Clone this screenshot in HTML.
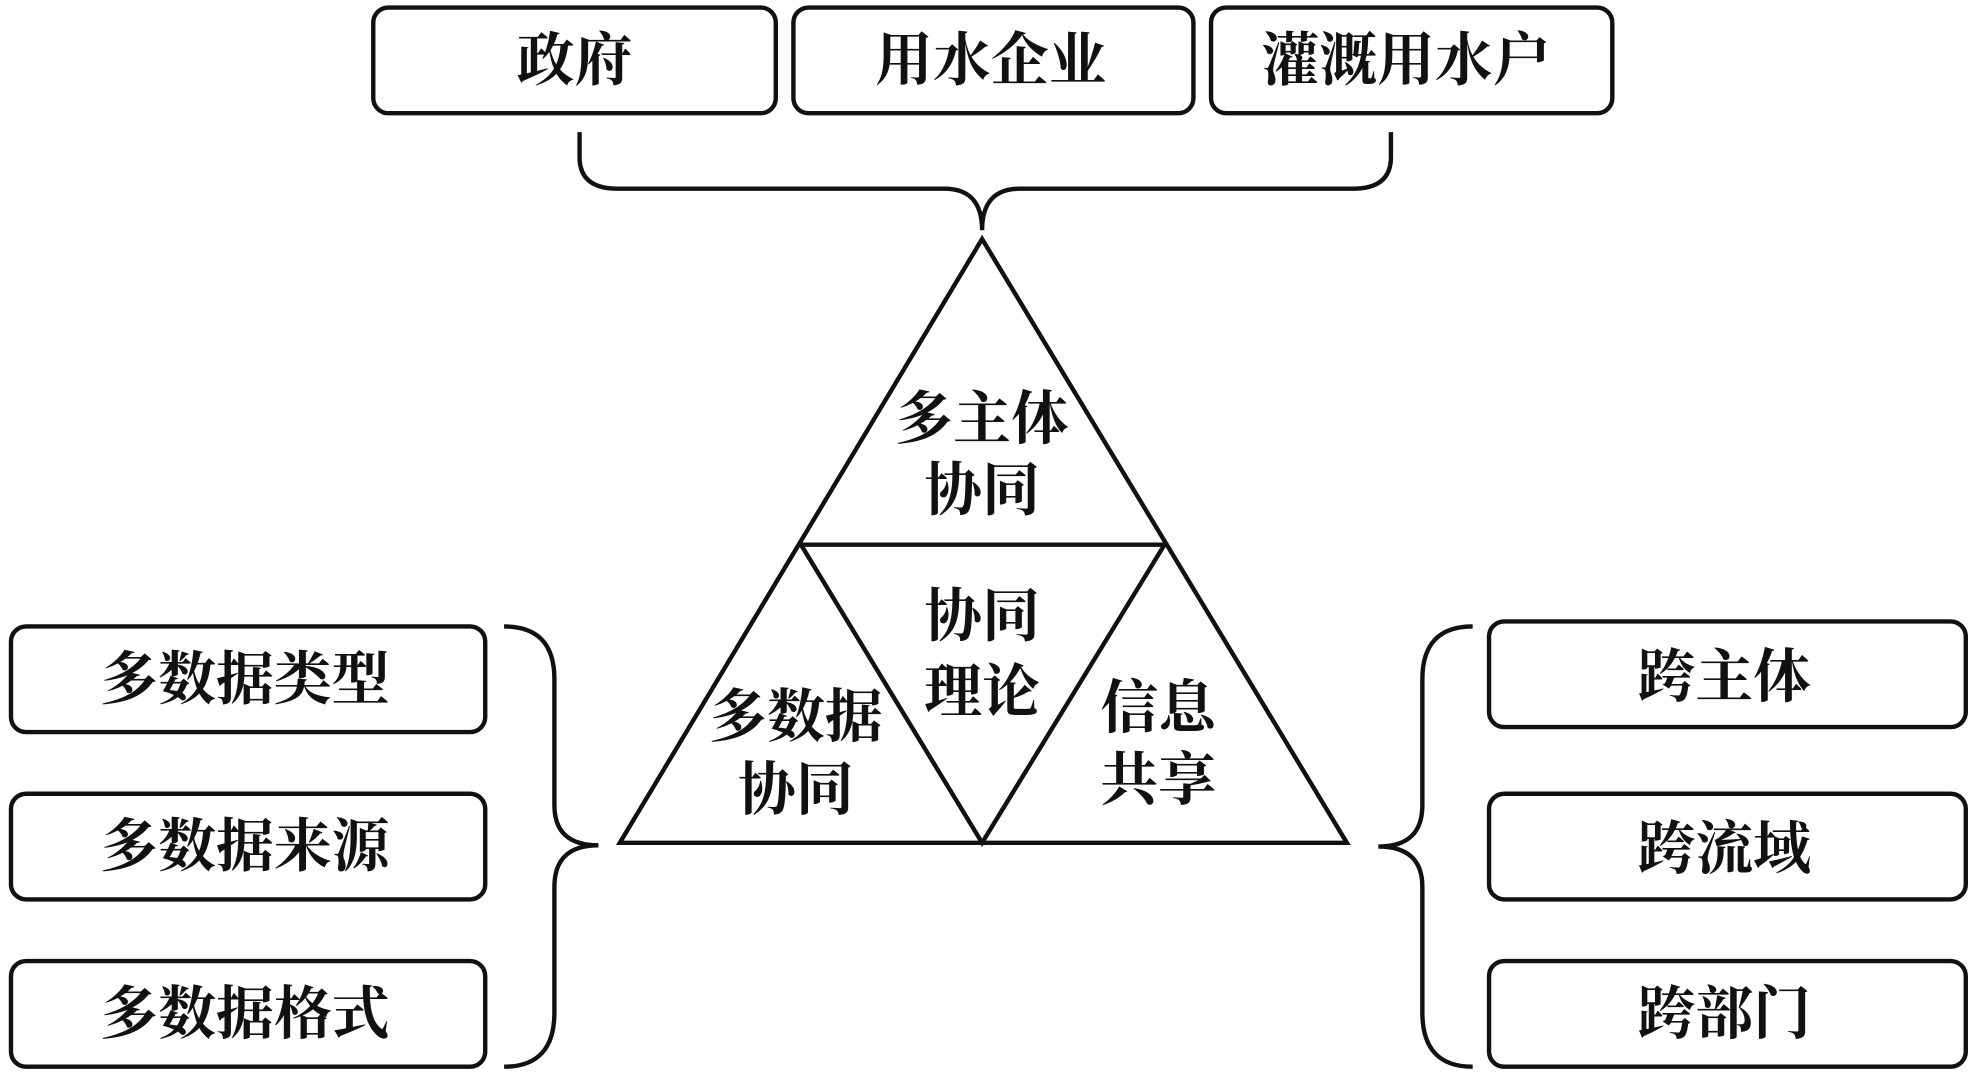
<!DOCTYPE html>
<html><head><meta charset="utf-8"><style>
html,body{margin:0;padding:0;background:#fff;}
svg{display:block;}
text{font-family:"Liberation Serif","Noto Serif CJK SC","Noto Sans CJK SC",serif;font-size:46px;font-weight:bold;fill:#111;text-anchor:middle;dominant-baseline:central;}
</style></head><body>
<svg width="1973" height="1073" viewBox="0 0 1567 853" xmlns="http://www.w3.org/2000/svg">
<g fill="none" stroke="#111" stroke-width="3.5">
<rect x="296" y="6" width="320" height="84" rx="12"/>
<rect x="630" y="6" width="318" height="84" rx="12"/>
<rect x="962" y="6" width="319" height="84" rx="12"/>
<rect x="8" y="498" width="377" height="84" rx="12"/>
<rect x="8" y="631" width="377" height="84" rx="12"/>
<rect x="8" y="764" width="377" height="84" rx="12"/>
<rect x="1183" y="494" width="379" height="84" rx="12"/>
<rect x="1183" y="631" width="379" height="84" rx="12"/>
<rect x="1183" y="764" width="379" height="84" rx="12"/>
<path d="M460 105 V125 Q460 150 490 150 H750 Q780 150 780 183 Q780 150 810 150 H1075 Q1105 150 1105 125 V105"/>
<path d="M400 498 Q440 498 440 540 V640 Q440 672 475 672 Q440 672 440 705 V805 Q440 848 400 848"/>
<path d="M1170 498 Q1130 498 1130 540 V640 Q1130 673 1095 673 Q1130 673 1130 705 V805 Q1130 848 1170 848"/>
<path d="M780 190 L1070 670 L492 670 Z"/>
<path d="M636 433 L925 433 L780 670 Z"/>
</g>
<text x="456" y="48">政府</text>
<text x="787" y="48">用水企业</text>
<text x="1117" y="48">灌溉用水户</text>
<text x="194" y="540">多数据类型</text>
<text x="194" y="673">多数据来源</text>
<text x="194" y="806">多数据格式</text>
<text x="1370" y="538">跨主体</text>
<text x="1370" y="675">跨流域</text>
<text x="1370" y="806">跨部门</text>
<text x="780" y="333">多主体</text>
<text x="780" y="390">协同</text>
<text x="780" y="490">协同</text>
<text x="780" y="550">理论</text>
<text x="632" y="570">多数据</text>
<text x="632" y="628">协同</text>
<text x="920" y="563">信息</text>
<text x="920" y="620">共享</text>
</svg>
</body></html>
